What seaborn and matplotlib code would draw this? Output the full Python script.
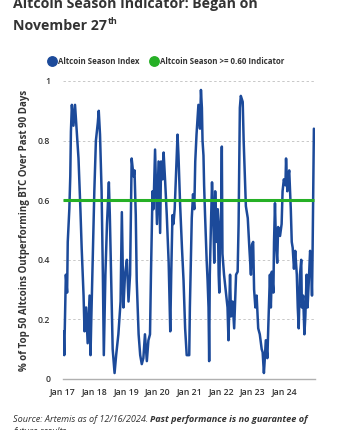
import matplotlib
matplotlib.use("Agg")
import matplotlib.pyplot as plt
from matplotlib.lines import Line2D
import seaborn as sns
import pandas as pd

# Altcoin Season Index: share of top-50 altcoins beating BTC over trailing 90 days
years = [
    2017.02, 2017.04, 2017.09, 2017.13, 2017.15, 2017.20, 2017.23, 2017.25, 2017.28, 2017.33,
    2017.38, 2017.43, 2017.49, 2017.55, 2017.59, 2017.65, 2017.68, 2017.73, 2017.78, 2017.84,
    2017.87, 2017.89, 2017.94, 2017.99, 2018.04, 2018.10, 2018.13, 2018.17, 2018.22, 2018.26,
    2018.29, 2018.34, 2018.39, 2018.45, 2018.48, 2018.52, 2018.57, 2018.63, 2018.68, 2018.75,
    2018.82, 2018.86, 2018.91, 2018.96, 2019.02, 2019.07, 2019.12, 2019.17, 2019.23, 2019.26,
    2019.30, 2019.33, 2019.39, 2019.44, 2019.49, 2019.54, 2019.59, 2019.65, 2019.70, 2019.75,
    2019.78, 2019.83, 2019.86, 2019.91, 2019.97, 2020.02, 2020.07, 2020.10, 2020.15, 2020.18,
    2020.23, 2020.28, 2020.34, 2020.39, 2020.42, 2020.46, 2020.49, 2020.53, 2020.58, 2020.62,
    2020.65, 2020.70, 2020.76, 2020.81, 2020.86, 2020.91, 2020.99, 2021.01, 2021.04, 2021.07,
    2021.11, 2021.15, 2021.18, 2021.22, 2021.25, 2021.28, 2021.33, 2021.36, 2021.39, 2021.41,
    2021.44, 2021.46, 2021.49, 2021.54, 2021.57, 2021.60, 2021.62, 2021.64, 2021.67, 2021.71,
    2021.75, 2021.78, 2021.81, 2021.85, 2021.89, 2021.92, 2021.94, 2021.97, 2022.00, 2022.02,
    2022.04, 2022.09, 2022.15, 2022.20, 2022.23, 2022.28, 2022.31, 2022.36, 2022.41, 2022.47,
    2022.52, 2022.55, 2022.59, 2022.62, 2022.68, 2022.71, 2022.75, 2022.78, 2022.84, 2022.89,
    2022.94, 2022.97, 2023.01, 2023.04, 2023.08, 2023.12, 2023.17, 2023.22, 2023.28, 2023.31,
    2023.35, 2023.38, 2023.41, 2023.46, 2023.49, 2023.54, 2023.57, 2023.60, 2023.65, 2023.67,
    2023.70, 2023.73, 2023.77, 2023.80, 2023.86, 2023.91, 2023.94, 2023.98, 2024.03, 2024.05,
    2024.09, 2024.12, 2024.15, 2024.20, 2024.23, 2024.26, 2024.30, 2024.34, 2024.39, 2024.42,
    2024.45, 2024.49, 2024.53, 2024.55, 2024.59, 2024.63, 2024.66, 2024.70, 2024.73, 2024.77,
    2024.81, 2024.84, 2024.87, 2024.89, 2024.91, 2024.93,
]
index_vals = [
    0.16, 0.08, 0.35, 0.29, 0.46, 0.57, 0.68, 0.83, 0.92, 0.85,
    0.92, 0.84, 0.74, 0.57, 0.44, 0.28, 0.16, 0.24, 0.12, 0.28,
    0.08, 0.18, 0.40, 0.63, 0.80, 0.86, 0.90, 0.82, 0.63, 0.35,
    0.08, 0.35, 0.52, 0.66, 0.55, 0.35, 0.10, 0.02, 0.08, 0.15,
    0.26, 0.56, 0.24, 0.35, 0.40, 0.26, 0.35, 0.74, 0.68, 0.70,
    0.55, 0.33, 0.15, 0.08, 0.05, 0.07, 0.15, 0.06, 0.13, 0.15,
    0.35, 0.63, 0.57, 0.77, 0.52, 0.73, 0.49, 0.73, 0.67, 0.76,
    0.66, 0.55, 0.39, 0.16, 0.35, 0.55, 0.52, 0.57, 0.71, 0.82,
    0.75, 0.59, 0.44, 0.33, 0.17, 0.08, 0.08, 0.24, 0.39, 0.54,
    0.62, 0.57, 0.73, 0.82, 0.87, 0.92, 0.84, 0.97, 0.91, 0.80,
    0.75, 0.65, 0.55, 0.40, 0.33, 0.24, 0.06, 0.35, 0.49, 0.66,
    0.54, 0.39, 0.63, 0.46, 0.57, 0.35, 0.29, 0.52, 0.57, 0.78,
    0.42, 0.35, 0.29, 0.24, 0.13, 0.35, 0.21, 0.26, 0.17, 0.35,
    0.36, 0.52, 0.91, 0.95, 0.93, 0.80, 0.68, 0.58, 0.54, 0.44,
    0.35, 0.45, 0.46, 0.30, 0.24, 0.28, 0.17, 0.15, 0.10, 0.09,
    0.02, 0.07, 0.13, 0.07, 0.18, 0.35, 0.24, 0.36, 0.29, 0.46,
    0.59, 0.46, 0.39, 0.51, 0.48, 0.52, 0.63, 0.67, 0.65, 0.74,
    0.63, 0.68, 0.70, 0.57, 0.46, 0.44, 0.37, 0.43, 0.35, 0.24,
    0.17, 0.35, 0.40, 0.24, 0.28, 0.15, 0.21, 0.35, 0.24, 0.33,
    0.43, 0.40, 0.28, 0.44, 0.63, 0.84,
]
threshold = 0.60
tick_years = [2017, 2018, 2019, 2020, 2021, 2022, 2023, 2024]
tick_labels = ["Jan 17", "Jan 18", "Jan 19", "Jan 20", "Jan 21", "Jan 22", "Jan 23", "Jan 24"]
y_ticks = [0, 0.2, 0.4, 0.6, 0.8, 1]
y_tick_labels = ["0", "0.2", "0.4", "0.6", "0.8", "1"]

BLUE = "#1c4a9a"
GREEN = "#26b026"
TEXT = "#333333"

sns.set_theme(style="white")
plt.rcParams["font.family"] = ["Open Sans", "DejaVu Sans"]

W, H = 349, 430
fig = plt.figure(figsize=(W / 100, H / 100), dpi=100)
fig.patch.set_facecolor("white")

def fx(px):
    return px / W

def fy(py):
    return 1 - py / H

ax = fig.add_axes([fx(63), fy(379), fx(315) - fx(63), fy(81) - fy(379)])

df = pd.DataFrame({"year": years, "value": index_vals})
sns.lineplot(data=df, x="year", y="value", ax=ax, color=BLUE, linewidth=1.8,
             sort=False, estimator=None, zorder=3)
ax.plot([2017.0, years[-1]], [threshold, threshold], color=GREEN, linewidth=2.2, zorder=4,
        solid_capstyle="butt")

ax.set_xlim(2017.0, 2024.965)
ax.set_ylim(0, 1)
ax.set_xticks(tick_years)
ax.set_xticklabels(tick_labels)
ax.set_yticks(y_ticks)
ax.set_yticklabels(y_tick_labels)
ax.tick_params(axis="both", length=0, labelsize=6.3, labelcolor=TEXT)
ax.tick_params(axis="x", pad=6)
ax.tick_params(axis="y", pad=9)
for lbl in ax.get_xticklabels() + ax.get_yticklabels():
    lbl.set_fontweight("semibold")

for v in y_ticks[1:]:
    ax.axhline(v, color="#c8c8c8", linewidth=0.7, linestyle=(0, (2.5, 2.5)), zorder=1)
for side in ["top", "right", "left"]:
    ax.spines[side].set_visible(False)
ax.spines["bottom"].set_color("#b0b0b0")
ax.spines["bottom"].set_linewidth(1.0)

ax.set_xlabel("")
ax.set_ylabel("% of Top 50 Altcoins Outperforming BTC Over Past 90 Days",
              fontsize=7, fontweight="bold", color=TEXT, labelpad=6)

# Title (two lines, superscript ordinal)
fig.text(fx(13), fy(8), "Altcoin Season Indicator: Began on", fontsize=10.2,
         fontweight="bold", color=TEXT, va="baseline", ha="left")
t2 = fig.text(fx(13), fy(29.5), "November 27", fontsize=10.2,
              fontweight="bold", color=TEXT, va="baseline", ha="left")
fig.canvas.draw()
bb = t2.get_window_extent()
fig.text(bb.x1 / fig.dpi / fig.get_figwidth() + 0.003, fy(24.5), "th", fontsize=6.5,
         fontweight="bold", color=TEXT, va="baseline", ha="left")

# Legend
for cx, col, label in [(52, BLUE, "Altcoin Season Index"),
                       (154, GREEN, "Altcoin Season >= 0.60 Indicator")]:
    fig.add_artist(Line2D([fx(cx)], [fy(61)], marker="o", markersize=6.8, color=col,
                          linestyle="", transform=fig.transFigure))
    fig.text(fx(cx + 6), fy(61), label, fontsize=5.7, fontweight="bold", color=TEXT,
             va="center", ha="left")

# Source note
src = fig.text(fx(13), fy(422), "Source: Artemis as of 12/16/2024. ", fontsize=6.6,
               style="italic", color=TEXT, va="baseline", ha="left")
fig.canvas.draw()
bb = src.get_window_extent()
fig.text(bb.x1 / fig.dpi / fig.get_figwidth(), fy(422), "Past performance is no guarantee of",
         fontsize=6.6, style="italic", fontweight="bold", color=TEXT, va="baseline", ha="left")
fig.text(fx(13), fy(434), "future results.", fontsize=6.6, style="italic", color=TEXT,
         va="baseline", ha="left")

fig.savefig("out.png", dpi=100, facecolor="white")
